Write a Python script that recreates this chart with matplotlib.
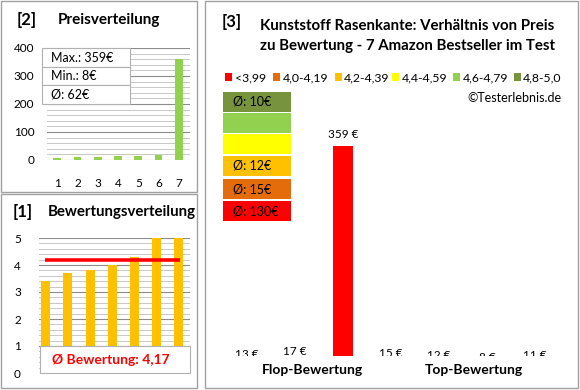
import numpy as np
import matplotlib
matplotlib.use("Agg")
import matplotlib.pyplot as plt
from matplotlib.patches import Rectangle
from matplotlib.ticker import MultipleLocator

plt.rcParams['font.family'] = ['Lato', 'DejaVu Sans']

# data
price_idx = [1, 2, 3, 4, 5, 6, 7]
prices_sorted = [8, 11, 12, 13, 15, 17, 359]
ratings_sorted = [3.4, 3.7, 3.8, 4.0, 4.3, 5.0, 5.0]
avg_rating = 4.17
main_prices = [13, 17, 359, 15, 12, 8, 11]
main_colors = ['#FF0000', '#FF0000', '#FF0000', '#E46C0A', '#FFC000', '#77933C', '#77933C']
legend_labels = ['<3,99', '4,0-4,19', '4,2-4,39', '4,4-4,59', '4,6-4,79', '4,8-5,0']
legend_colors = ['#FF0000', '#E46C0A', '#FFC000', '#FFFF00', '#92D050', '#77933C']
box_colors = ['#77933C', '#92D050', '#FFFF00', '#FFC000', '#E46C0A', '#FF0000']
box_texts = ['Ø: 10€', '', '', 'Ø: 12€', 'Ø: 15€', 'Ø: 130€']
stats_texts = ['Max.: 359€', 'Min.: 8€', 'Ø: 62€']

W, H = 580, 390
fig = plt.figure(figsize=(W / 100, H / 100), dpi=100)


def fx(px):
    return px / W


def fy(py):
    return 1 - py / H


grid_major = '#8c8c8c'
grid_minor = '#c8c8c8'

# [2] Preisverteilung
ax1 = fig.add_axes([fx(47), fy(160), (190 - 47) / W, (160 - 48) / H])
ax1.bar(price_idx, prices_sorted, width=0.38, color='#92D050', zorder=3)
ax1.set_xlim(0.5, 7.55)
ax1.set_ylim(0, 400)
ax1.yaxis.set_major_locator(MultipleLocator(100))
ax1.yaxis.set_minor_locator(MultipleLocator(20))
ax1.set_xticks(price_idx)
ax1.grid(axis='y', which='major', color=grid_major, lw=0.8, zorder=0)
ax1.grid(axis='y', which='minor', color=grid_minor, lw=0.7, zorder=0)
ax1.tick_params(axis='both', which='both', length=0, labelsize=8.5)
ax1.tick_params(axis='y', pad=9)
ax1.tick_params(axis='x', pad=13)
for s in ax1.spines.values():
    s.set_visible(False)

# [1] Bewertungsverteilung
ax2 = fig.add_axes([fx(39), fy(373), (190 - 39) / W, (373 - 238) / H])
ax2.bar(price_idx, ratings_sorted, width=0.4, color='#FFC000', zorder=3)
ax2.plot([0.97, 7.06], [avg_rating, avg_rating], color='#FF0000', lw=2.6,
         solid_capstyle='butt', zorder=4)
ax2.set_xlim(0.7, 7.5)
ax2.set_ylim(0, 5)
ax2.yaxis.set_major_locator(MultipleLocator(1))
ax2.yaxis.set_minor_locator(MultipleLocator(0.2))
ax2.set_xticks([])
ax2.grid(axis='y', which='major', color=grid_major, lw=0.8, zorder=0)
ax2.grid(axis='y', which='minor', color=grid_minor, lw=0.7, zorder=0)
ax2.tick_params(axis='both', which='both', length=0, labelsize=8.5)
ax2.tick_params(axis='y', pad=13)
for s in ax2.spines.values():
    s.set_visible(False)

# [3] main chart
ax3 = fig.add_axes([fx(223), fy(356), (559 - 223) / W, (356 - 90) / H])
xs = np.arange(len(main_prices))
ax3.bar(xs, main_prices, width=0.4, color=main_colors)
ax3.set_xlim(-0.5, 6.5)
ax3.set_ylim(28, 447)
for x, v in zip(xs, main_prices):
    ax3.annotate(f'{v} €', (x, v), xytext=(0, 4), textcoords='offset points',
                 ha='center', va='bottom', fontsize=8.5, clip_on=True,
                 annotation_clip=False)
ax3.axis('off')

# overlay for frames, titles and boxes
ov = fig.add_axes([0, 0, 1, 1], zorder=10)
ov.set_xlim(0, W)
ov.set_ylim(H, 0)
ov.axis('off')

frame = '#a0a0a0'
ov.add_patch(Rectangle((1, 1), 196, 191, fill=False, ec=frame, lw=1))
ov.add_patch(Rectangle((1, 194), 196, 194, fill=False, ec=frame, lw=1))
ov.add_patch(Rectangle((205, 1), 373, 387, fill=False, ec=frame, lw=1))

ov.text(17, 20, '[2]', fontsize=12, fontweight='bold', va='center')
ov.text(58, 20, 'Preisverteilung', fontsize=11, fontweight='bold', va='center')
ov.text(13, 212, '[1]', fontsize=12, fontweight='bold', va='center')
ov.text(48, 212, 'Bewertungsverteilung', fontsize=10.8, fontweight='bold', va='center')

# stats box in price panel
for i, t in enumerate(stats_texts):
    y0 = 48 + i * 18.7
    ov.add_patch(Rectangle((42, y0), 88, 18.7, fc='white', ec='#b0b0b0', lw=0.8))
    ov.text(51, y0 + 9.5, t, fontsize=9, va='center')

# average rating box
ov.add_patch(Rectangle((40, 346), 150, 27, fc='white', ec='#b0b0b0', lw=0.8))
ov.text(111, 360, 'Ø Bewertung: 4,17', fontsize=10, fontweight='bold',
        color='#FF0000', ha='center', va='center')

# main title
ov.text(222, 22, '[3]', fontsize=12, fontweight='bold', va='center')
ov.text(260, 26, 'Kunststoff Rasenkante: Verhältnis von Preis', fontsize=10.8,
        fontweight='bold', va='center')
ov.text(260, 46, 'zu Bewertung - 7 Amazon Bestseller im Test', fontsize=10.8,
        fontweight='bold', va='center')

# color legend
sq_x = [225, 273, 335, 392, 453, 514]
tx_x = [235, 283, 344, 402, 463, 523]
for sx, tx, lab, c in zip(sq_x, tx_x, legend_labels, legend_colors):
    ov.add_patch(Rectangle((sx, 73), 7, 7.5, fc=c, ec='none'))
    ov.text(tx, 77.5, lab, fontsize=8.8, va='center')
ov.text(562, 98, '©Testerlebnis.de', fontsize=9, ha='right', va='center')

# average price boxes
box_y = [92, 113, 134, 156, 179, 201]
for y0, c, t in zip(box_y, box_colors, box_texts):
    ov.add_patch(Rectangle((223, y0), 68, 20, fc=c, ec='none'))
    if t:
        ov.text(233, y0 + 10, t, fontsize=9, va='center')

ov.text(312, 370, 'Flop-Bewertung', fontsize=10, fontweight='bold', ha='center', va='center')
ov.text(474, 370, 'Top-Bewertung', fontsize=10, fontweight='bold', ha='center', va='center')

fig.savefig('out.png', dpi=100)
